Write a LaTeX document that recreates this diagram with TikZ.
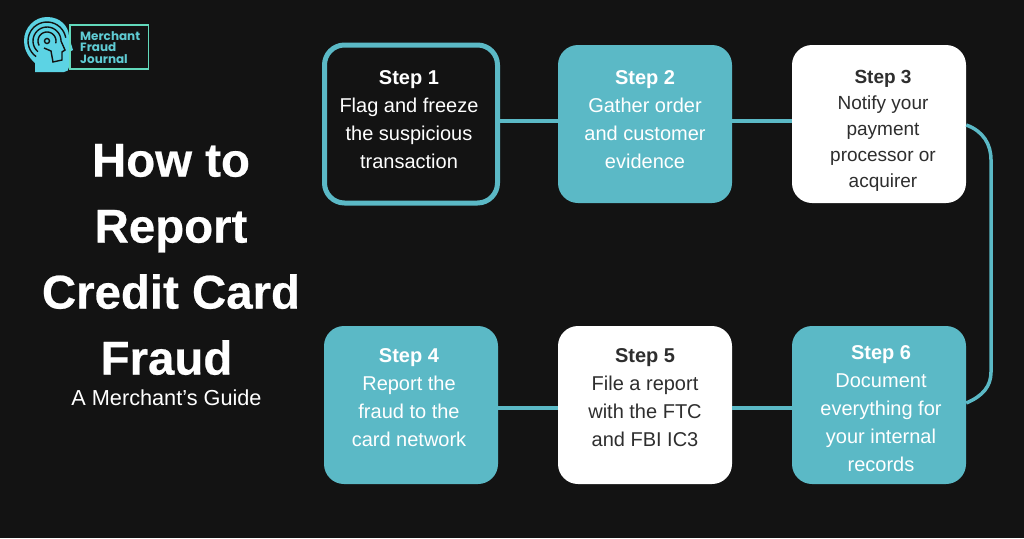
\documentclass[tikz,border=0pt]{standalone}
\usepackage{fontspec}
\setmainfont{Liberation Sans}
\newfontfamily\logofont{Poppins}
\newfontfamily\titlefont{Liberation Sans}[UprightFont=* Bold, FakeBold=0.5]
\definecolor{bgdark}{HTML}{131313}
\definecolor{stepteal}{HTML}{5BB9C6}
\definecolor{stepgrey}{HTML}{2E2E2E}
\definecolor{logocyan}{HTML}{5CD3E4}
\definecolor{logotext}{HTML}{5FCBD3}
\definecolor{logogreen}{HTML}{62D9BC}
% testo centrato, spostato di #1 e #2 rispetto al riquadro
\newcommand{\steplines}[3]{\raisebox{#2}[0pt][0pt]{\makebox[0pt]{\hspace*{#1}\begin{tabular}{@{}c@{}}#3\end{tabular}}}}
\tikzset{
  stepbox/.style={rectangle, rounded corners=20pt, minimum width=174pt, minimum height=158pt,
    inner sep=0pt, font=\fontsize{20}{28}\selectfont},
  tealbox/.style={stepbox, fill=stepteal, text=white},
  whitebox/.style={stepbox, fill=white, text=stepgrey},
  darkbox/.style={stepbox, fill=bgdark, draw=stepteal, line width=5pt, text=white,
    minimum width=173pt, minimum height=158pt},
  link/.style={stepteal, line width=3.5pt},
  headline/.style={bgdark, line width=1.4pt},
}
\begin{document}
\begin{tikzpicture}[x=1pt,y=-1pt]
    % Sfondo
    \fill[bgdark] (0,0) rectangle (1024,538);
    \useasboundingbox (0,0) rectangle (1024,538);

    % Logo
    \fill[logocyan] (35,72) -- (35,63) .. controls (27,56) and (24,48) .. (24,41)
        .. controls (24,27) and (35,17) .. (47,17)
        .. controls (60,17) and (69,26) .. (69,37) -- (73,50) -- (69,52) -- (69,67)
        .. controls (69,70) and (67,72) .. (64,72) -- cycle;
    \draw[headline, domain=125:350, smooth, variable=\t] plot ({47+19*cos(\t)}, {41+19*sin(\t)});
    \draw[headline, domain=130:360, smooth, variable=\t] plot ({47+14*cos(\t)}, {41+14*sin(\t)});
    \draw[headline, domain=150:375, smooth, variable=\t] plot ({47+9*cos(\t)}, {41+9*sin(\t)});
    \draw[headline] (47,41) circle (2.5pt);
    \draw[headline] (61,41) -- (65,50) -- (62,52) -- (62,60) -- (53,62) -- (51,51) -- (44,48);
    \draw[logogreen, line width=1.2pt] (70,25) rectangle (148.5,69);
    \node[anchor=north west, inner sep=0pt, align=left, text=logotext,
        font=\logofont\bfseries\fontsize{12}{11.7}\selectfont] (logotext) at (80,31)
        {Merchant\\Fraud\\Journal};

    % Titolo
    \node[text=white, align=center, inner sep=0pt, font=\titlefont\fontsize{47.4}{66}\selectfont]
        (title) at (171,259.5) {How to\\Report\\Credit Card\\Fraud\hspace*{9pt}};
    \node[text=white, inner sep=0pt, font=\fontsize{21.7}{26}\selectfont] (subtitle) at (166.5,398)
        {A Merchant’s Guide};

    % Passi
    \node[darkbox] (step1) at (411,124) {\steplines{-4pt}{-2pt}{\textbf{Step 1}\\Flag and freeze\\the suspicious\\transaction}};
    \node[tealbox] (step2) at (645,124) {\steplines{0pt}{-2pt}{\textbf{Step 2}\\Gather order\\and customer\\evidence}};
    \node[whitebox, font=\fontsize{19}{26}\selectfont] (step3) at (879,124) {\steplines{8pt}{-10.5pt}{\textbf{Step 3}\\Notify your\\payment\\processor or\\acquirer}};
    \node[tealbox] (step4) at (411,405) {\steplines{-4pt}{1pt}{\textbf{Step 4}\\Report the\\fraud to the\\card network}};
    \node[whitebox] (step5) at (645,405) {\steplines{0pt}{1pt}{\textbf{Step 5}\\File a report\\with the FTC\\and FBI IC3}};
    \node[tealbox] (step6) at (879,405) {\steplines{4pt}{-10pt}{\textbf{Step 6}\\Document\\everything for\\your internal\\records}};

    % Collegamenti
    \coordinate (bendtop) at (991,160);
    \coordinate (bendbot) at (991,372);
    \draw[link] ([yshift=3pt]step1.east) -- ([yshift=3pt]step2.west);
    \draw[link] ([yshift=3pt]step2.east) -- ([yshift=3pt]step3.west);
    \draw[link] ([yshift=-1pt]step3.east) .. controls (983,131) and (991,144) .. (bendtop) -- (bendbot)
        .. controls (991,386) and (983,396) .. ([yshift=2pt]step6.east);
    \draw[link] ([yshift=-3pt]step4.east) -- ([yshift=-3pt]step5.west);
    \draw[link] ([yshift=-3pt]step5.east) -- ([yshift=-3pt]step6.west);
\end{tikzpicture}
\end{document}
